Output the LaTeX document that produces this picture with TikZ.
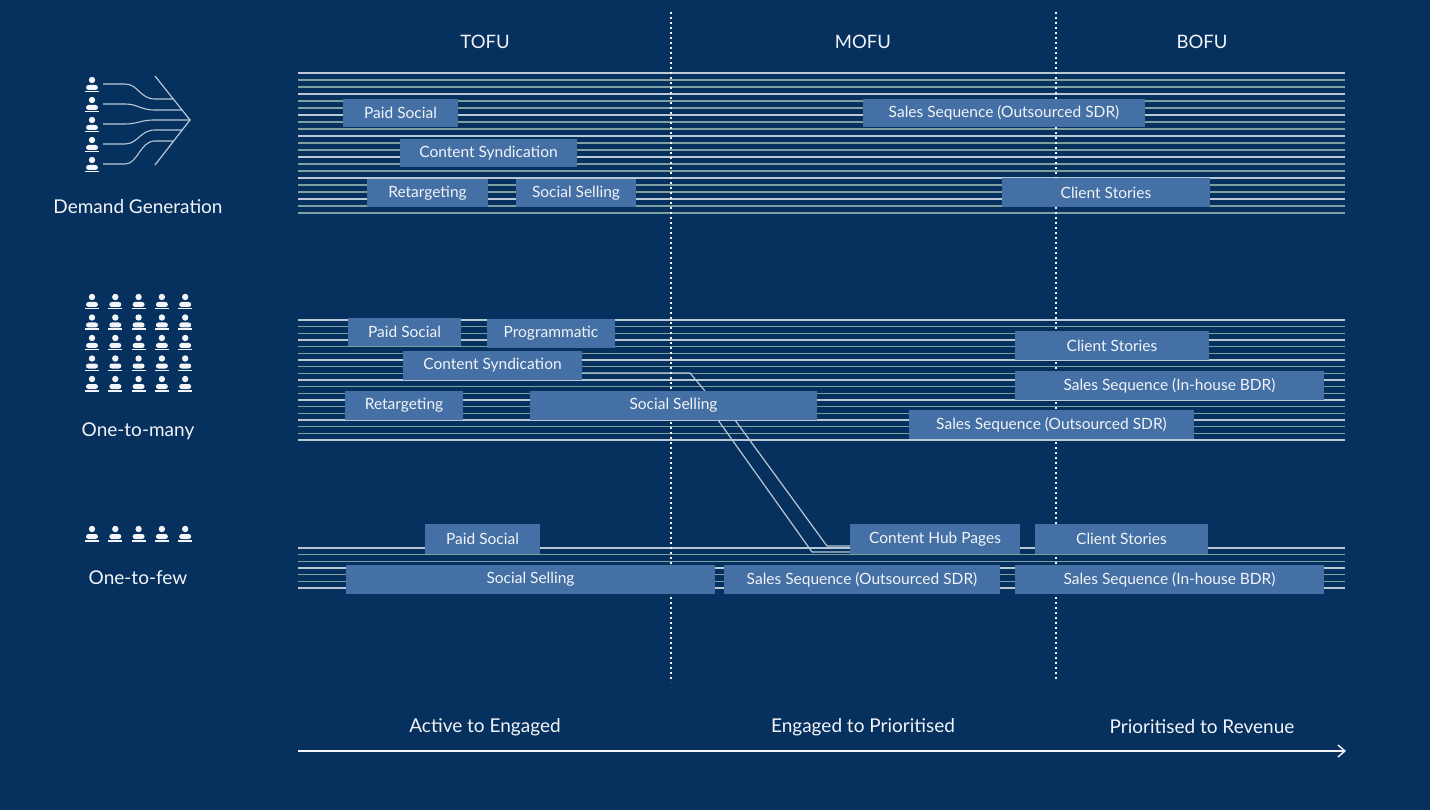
\documentclass[tikz,border=0pt]{standalone}
\usetikzlibrary{arrows.meta}
\usepackage{fontspec}
\setmainfont{Lato}
\definecolor{bg}{HTML}{06315E}
\definecolor{bx}{HTML}{4470A5}
\definecolor{lnA}{HTML}{B8C8D4}
\definecolor{lnB}{HTML}{7FA0A0}
\definecolor{wt}{HTML}{F2F4F8}
\newcommand\bx[6]{\node[box,minimum width={(#4-#2)*1pt},minimum height={(#5-#3)*1pt}] (#1) at ({(#2+#4)/2},{(#3+#5)/2}) {#6};}
\newcommand\psn[2]{\fill[wt] (#1,#2-4) circle (3.2); \fill[wt,rounded corners=2.5] (#1-6,#2+6) rectangle (#1+6,#2+1); \fill[wt] (#1-7,#2+7) rectangle (#1+7,#2+8.5);}
\newcommand\stripes[3]{\foreach \i in {0,...,#3}{\pgfmathsetmacro\yy{#1+\i*(#2-#1)/#3}\pgfmathparse{mod(\i,3)==0?1:0}\ifnum\pgfmathresult=1 \draw[lnA,line width=1.3] (298,\yy) -- (1345,\yy);\else \draw[lnB,line width=1.1] (298,\yy) -- (1345,\yy);\fi}}
\begin{document}
\begin{tikzpicture}[x=1pt,y=-1pt,
 box/.style={fill=bx,inner sep=0,text=wt,font=\fontsize{15.5}{16}\selectfont},
 head/.style={text=wt,font=\fontsize{18.5}{20}\selectfont},
 lab/.style={text=wt,font=\fontsize{19}{20}\selectfont}]
\fill[bg] (0,0) rectangle (1430,810);
\useasboundingbox (0,0) rectangle (1430,810);
% stripes
\stripes{73}{213}{20}
\stripes{320}{440}{18}
\stripes{548}{588}{6}
% diagonal connectors
\draw[lnA,line width=1.2] (582,373) -- (690,373) -- (705,391);
\draw[lnA,line width=1.2] (718,420) -- (812,552) -- (850,552);
\draw[lnA,line width=1.2] (735,420) -- (827,546) -- (850,546);
% dividers
\draw[wt,line width=1.2,dash pattern=on 2pt off 3pt] (671,12) -- (671,682);
\draw[wt,line width=1.2,dash pattern=on 2pt off 3pt] (1056,12) -- (1056,682);
% boxes
\bx{a1}{343}{99}{458}{127}{Paid Social}
\bx{a2}{863}{99}{1145}{127}{Sales Sequence (Outsourced SDR)}
\bx{a3}{400}{139}{577}{167}{Content Syndication}
\bx{a4}{367}{179}{488}{207}{Retargeting}
\bx{a5}{516}{179}{636}{207}{Social Selling}
\bx{a6}{1002}{178}{1210}{207}{Client Stories}
\bx{b1}{348}{318}{461}{346}{Paid Social}
\bx{b2}{487}{319}{615}{348}{Programmatic}
\bx{b3}{403}{351}{582}{380}{Content Syndication}
\bx{b4}{1015}{331}{1209}{360}{Client Stories}
\bx{b5}{1015}{371}{1324}{400}{Sales Sequence (In-house BDR)}
\bx{b6}{345}{391}{463}{420}{Retargeting}
\bx{b7}{530}{391}{817}{420}{Social Selling}
\bx{b8}{909}{410}{1194}{439}{Sales Sequence (Outsourced SDR)}
\bx{c1}{425}{524}{540}{554}{Paid Social}
\bx{c2}{850}{524}{1020}{554}{Content Hub Pages}
\bx{c3}{1035}{524}{1208}{554}{Client Stories}
\bx{c4}{346}{565}{715}{594}{Social Selling}
\bx{c5}{724}{565}{1000}{594}{Sales Sequence (Outsourced SDR)}
\bx{c6}{1015}{565}{1324}{594}{Sales Sequence (In-house BDR)}
% headers
\node[head] (h1) at (485,42) {TOFU};
\node[head] (h2) at (863,42) {MOFU};
\node[head] (h3) at (1202,42) {BOFU};
\node[lab] (f1) at (485,727) {Active to Engaged};
\node[lab] (f2) at (863,727) {Engaged to Prioritised};
\node[lab] (f3) at (1202,727) {Prioritised to Revenue};
\coordinate (s) at (298,751); \coordinate (e) at (1346,751);
\draw[wt,line width=1.4,-{Straight Barb[length=7pt,width=12pt]}] (s) -- (e);
% left icons
\foreach \k in {0,...,4}{\psn{92}{84+\k*20}}
\foreach \k/\t in {0/99,1/110,2/120,3/130,4/141}{
 \draw[lnA,line width=1.1] (103,{84+\k*20}) -- (125,{84+\k*20}) .. controls (138,{84+\k*20}) and (140,\t) .. (155,\t) -- ({190-abs(\t-120)*0.78},\t);}
\draw[lnA,line width=1.2] (155,76) -- (190,120) -- (155,165);
\node[lab] (l1) at (138,207) {Demand Generation};
\foreach \r in {0,...,4}{\foreach \c in {0,...,4}{\psn{92+\c*23.3}{301+\r*20.5}}}
\node[lab] (l2) at (138,431) {One-to-many};
\foreach \c in {0,...,4}{\psn{92+\c*23.3}{533}}
\node[lab] (l3) at (138,578) {One-to-few};
\end{tikzpicture}
\end{document}
